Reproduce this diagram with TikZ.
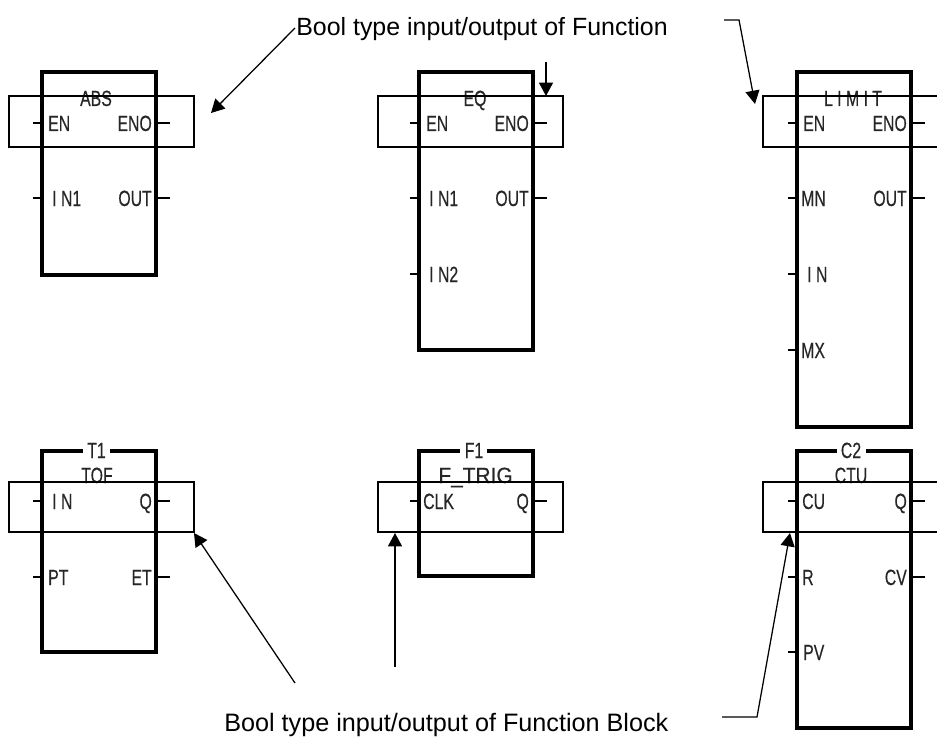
\documentclass[tikz,border=0pt]{standalone}
\usepackage{fontspec}
\setmainfont{Liberation Sans}
\newfontfamily\pinfont[FakeBold=0.4]{Liberation Sans}
\usetikzlibrary{arrows.meta}
\tikzset{
  x=0.75pt,y=-0.75pt,
  block/.style={draw=black,line width=2.5pt,line join=miter,line cap=butt},
  band/.style={draw=black,line width=0.95pt},
  pin/.style={line width=1.9pt},
  lab/.style={inner sep=0pt,font=\pinfont\fontsize{16.5}{16.5}\selectfont,xscale=.72,anchor=base,text=black!85},
  lablft/.style={lab,anchor=base west},
  labrgt/.style={lab,anchor=base east},
  captext/.style={inner sep=0pt,font=\fontsize{18.7}{20}\selectfont,anchor=base west},
  lead/.style={line width=0.95pt,-{Triangle[length=10pt,width=10.5pt]}}
}
\newcommand{\inpin}[5]{% name, x of block, y, text offset, text
  \draw[pin] (#2-9,#3) -- (#2,#3);
  \node[lablft] (#1) at (#2+#4,#3+8) {#5};}
\newcommand{\outpin}[4]{%
  \draw[pin] (#2,#3) -- (#2+14,#3);
  \node[labrgt] (#1) at (#2-4,#3+8) {#4};}
\begin{document}
\begin{tikzpicture}
\useasboundingbox (0,0) rectangle (937,738);
\coordinate (b1a) at (9,96);   \coordinate (b1b) at (194,147);
\coordinate (b2a) at (378,96); \coordinate (b2b) at (563,147);
\coordinate (b4a) at (9,482);  \coordinate (b4b) at (194,532);
\coordinate (b5a) at (378,482);\coordinate (b5b) at (563,532);
% blocks
\draw[block] (42,72) rectangle (156,275);
\draw[block] (419,72) rectangle (533,350);
\draw[block] (797,72) rectangle (911,427);
\draw[block] (110,451) -- (156,451) -- (156,652) -- (42,652) -- (42,451) -- (83,451);
\draw[block] (487,451) -- (533,451) -- (533,576) -- (419,576) -- (419,451) -- (460,451);
\draw[block] (866,451) -- (911,451) -- (911,728) -- (797,728) -- (797,451) -- (837,451);
% block names
\node[lab] (nabs) at (96,106) {ABS};
\node[lab] (neq) at (475,106) {EQ};
\node[lab] (nlim) at (853,106) {L I M I T};
\node[lab] (nt1) at (96.5,458) {T1};
\node[lab] (ntof) at (97,483) {TOF};
\node[lab] (nf1) at (474,458) {F1};
\node[lab,xscale=1.32] (ntr) at (475.5,483) {F\_TRIG};
\node[lab] (nc2) at (851,458) {C2};
\node[lab] (nctu) at (851,483) {CTU};
% pins
\inpin{a1}{42}{123}{6}{EN}\outpin{a2}{156}{123}{ENO}
\inpin{a3}{42}{198}{10}{I N1}\outpin{a4}{156}{198}{OUT}
\inpin{e1}{419}{123}{7}{EN}\outpin{e2}{533}{123}{ENO}
\inpin{e3}{419}{198}{10}{I N1}\outpin{e4}{533}{198}{OUT}
\inpin{e5}{419}{274}{10}{I N2}
\inpin{l1}{797}{123}{6}{EN}\outpin{l2}{911}{123}{ENO}
\inpin{l3}{797}{198}{4}{MN}\outpin{l4}{911}{198}{OUT}
\inpin{l5}{797}{274}{10}{I N}
\inpin{l6}{797}{350}{4}{MX}
\inpin{t1}{42}{501}{10}{I N}\outpin{t2}{156}{501}{Q}
\inpin{t3}{42}{577}{6}{PT}\outpin{t4}{156}{577}{ET}
\inpin{f1}{419}{501}{4}{CLK}\outpin{f2}{533}{501}{Q}
\inpin{c1}{797}{501}{5}{CU}\outpin{c2}{911}{501}{Q}
\inpin{c3}{797}{577}{5}{R}\outpin{c4}{911}{577}{CV}
\inpin{c5}{797}{652}{6}{PV}
% bands on top
\draw[band] (b1a) rectangle (b1b);
\draw[band] (b2a) rectangle (b2b);
\draw[band] (b4a) rectangle (b4b);
\draw[band] (b5a) rectangle (b5b);
\draw[band] (937,96) -- (763,96) -- (763,147) -- (937,147);
\draw[band] (937,482) -- (763,482) -- (763,532) -- (937,532);
% captions
\node[captext] (captop) at (296,36) {Bool type input/output of Function};
\node[captext,font=\fontsize{18.9}{20}\selectfont] (capbot) at (224,731) {Bool type input/output of Function Block};
% leaders
\coordinate (p1) at (295,28);  \coordinate (q1) at (211,113);
\coordinate (p2) at (546,62);  \coordinate (q2) at (546,96);
\coordinate (p3) at (724,20);  \coordinate (p3b) at (739,20); \coordinate (q3) at (755,104);
\coordinate (p4) at (295,683); \coordinate (q4) at (194,533);
\coordinate (p5) at (395,667); \coordinate (q5) at (395,533);
\coordinate (p6) at (722,717); \coordinate (p6b) at (757,717); \coordinate (q6) at (790,533);
\draw[lead] (p1) -- (q1);
\draw[lead] (p2) -- (q2);
\draw[lead] (p3) -- (p3b) -- (q3);
\draw[lead] (p4) -- (q4);
\draw[lead] (p5) -- (q5);
\draw[lead] (p6) -- (p6b) -- (q6);
\end{tikzpicture}
\end{document}
